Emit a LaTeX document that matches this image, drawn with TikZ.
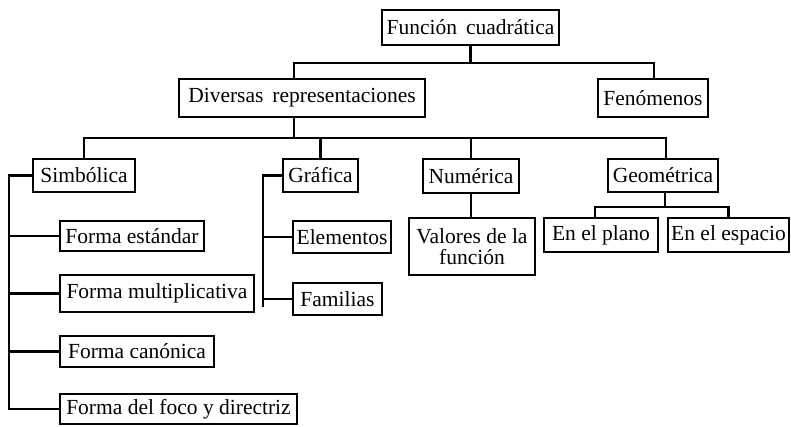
\documentclass[tikz,border=0pt]{standalone}
\usepackage{fontspec}
\setmainfont{Liberation Serif}
\begin{document}
\begin{tikzpicture}[x=1pt,y=-1pt,
  box/.style={draw=black,line width=2.5pt,inner sep=0pt,align=center,
    font=\fontsize{21.5}{21}\selectfont},
  conn/.style={draw=black,line width=2.5pt}]
\useasboundingbox (0,0) rectangle (791,426);
% nodes
\node[box,minimum width=177pt,minimum height=35pt] (fc) at (470.5,27.5) {Función\, cuadrática};
\node[box,minimum width=246pt,minimum height=38pt] (dr) at (302,98) {Diversas\, representaciones};
\node[box,minimum width=110pt,minimum height=38pt] (fen) at (653,98) {Fenómenos};
\node[box,minimum width=102pt,minimum height=33pt] (sim) at (84,175.5) {Simbólica};
\node[box,minimum width=75pt,minimum height=33pt] (gra) at (320.5,175.5) {Gráfica};
\node[box,minimum width=96pt,minimum height=34pt] (num) at (471,176) {Numérica};
\node[box,minimum width=110pt,minimum height=33pt] (geo) at (663,175.5) {Geométrica};
\node[box,minimum width=144pt,minimum height=30pt] (fe) at (132,236) {Forma estándar};
\node[box,minimum width=194pt,minimum height=37pt] (fm) at (157,293.5) {Forma multiplicativa};
\node[box,minimum width=154pt,minimum height=31pt] (fcn) at (137,351.5) {Forma canónica};
\node[box,minimum width=237pt,minimum height=30pt] (ffd) at (178.5,409) {Forma del foco y directriz};
\node[box,minimum width=98pt,minimum height=32pt] (ele) at (342,237) {Elementos};
\node[box,minimum width=89pt,minimum height=32pt] (fam) at (337.5,299) {Familias};
\node[box,minimum width=126pt,minimum height=57pt] (val) at (472,246.5) {Valores de la\\función};
\node[box,minimum width=114pt,minimum height=34pt] (plano) at (601,235) {En el plano};
\node[box,minimum width=121pt,minimum height=34pt] (esp) at (728.5,235) {En el espacio};
% bus coordinates
\coordinate (b1) at (470.5,63);
\coordinate (b2) at (294,138);
\coordinate (b3) at (665,207);
\coordinate (sl) at (9,0);
\coordinate (gl) at (263,0);
\coordinate (gend) at (263,307);
% top level
\draw[conn] (fc.south) -- (b1);
\draw[conn] ([xshift=-8pt]dr.north) |- (b1) -| ([xshift=1pt]fen.north);
% second level
\draw[conn] ([xshift=-8pt]dr.south) -- (b2);
\draw[conn] (sim.north) |- (b2) -| ([xshift=3pt]geo.north);
\draw[conn] (gra.north) -- (gra.north |- b2);
\draw[conn] (num.north) -- (num.north |- b2);
% Simbolica
\draw[conn] (sim.west) -| (sl |- ffd.west) -- (ffd.west);
\draw[conn] (sl |- fe.west) -- (fe.west);
\draw[conn] (sl |- fm.west) -- (fm.west);
\draw[conn] (sl |- fcn.west) -- (fcn.west);
% Grafica
\draw[conn] (gra.west) -| (gend);
\draw[conn] (gl |- ele.west) -- (ele.west);
\draw[conn] (gl |- fam.west) -- (fam.west);
% Numerica
\draw[conn] (num.south) -- (num.south |- val.north);
% Geometrica
\draw[conn] ([xshift=2pt]geo.south) -- (b3);
\draw[conn] ([xshift=-6pt]plano.north) |- (b3) -| (esp.north);
\end{tikzpicture}
\end{document}
